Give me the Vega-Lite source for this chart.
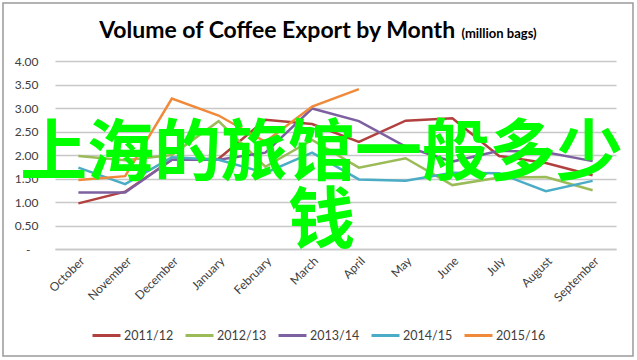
{
  "$schema": "https://vega.github.io/schema/vega-lite/v6.json",
  "width": 561,
  "height": 188,
  "autosize": {"type": "none"},
  "padding": {"left": 55, "top": 61, "right": 21, "bottom": 111},
  "background": "white",
  "config": {
    "view": {"stroke": null},
    "font": "Lato",
    "axisX": {
      "labelAngle": -45,
      "labelFont": "Lato",
      "labelFontSize": 12,
      "labelColor": "#404040",
      "labelPadding": 6,
      "ticks": false,
      "domainColor": "#C8C8C8",
      "domainWidth": 1.5,
      "grid": false
    },
    "axisY": {
      "tickCount": 8,
      "labelExpr": "datum.value == 0 ? '-' : format(datum.value, '.2f')",
      "labelOverlap": false,
      "labelFont": "Lato",
      "labelFontSize": 12,
      "labelColor": "#404040",
      "labelPadding": {"condition": {"test": "datum.value == 0", "value": 25}, "value": 17},
      "ticks": false,
      "domain": false,
      "grid": true,
      "gridColor": "#C8C8C8",
      "gridWidth": 1.5
    }
  },
  "datasets": {
    "exports": [
      {"month": "October", "season": "2011/12", "value": 0.97},
      {"month": "November", "season": "2011/12", "value": 1.22},
      {"month": "December", "season": "2011/12", "value": 1.9},
      {"month": "January", "season": "2011/12", "value": 1.92},
      {"month": "February", "season": "2011/12", "value": 2.75},
      {"month": "March", "season": "2011/12", "value": 2.66},
      {"month": "April", "season": "2011/12", "value": 2.28},
      {"month": "May", "season": "2011/12", "value": 2.73},
      {"month": "June", "season": "2011/12", "value": 2.78},
      {"month": "July", "season": "2011/12", "value": 1.98},
      {"month": "August", "season": "2011/12", "value": 1.83},
      {"month": "September", "season": "2011/12", "value": 1.57},
      {"month": "October", "season": "2012/13", "value": 1.98},
      {"month": "November", "season": "2012/13", "value": 1.89},
      {"month": "December", "season": "2012/13", "value": 2.0},
      {"month": "January", "season": "2012/13", "value": 2.72},
      {"month": "February", "season": "2012/13", "value": 1.75},
      {"month": "March", "season": "2012/13", "value": 2.32},
      {"month": "April", "season": "2012/13", "value": 1.73},
      {"month": "May", "season": "2012/13", "value": 1.93},
      {"month": "June", "season": "2012/13", "value": 1.36},
      {"month": "July", "season": "2012/13", "value": 1.52},
      {"month": "August", "season": "2012/13", "value": 1.53},
      {"month": "September", "season": "2012/13", "value": 1.25},
      {"month": "October", "season": "2013/14", "value": 1.2},
      {"month": "November", "season": "2013/14", "value": 1.2},
      {"month": "December", "season": "2013/14", "value": 1.9},
      {"month": "January", "season": "2013/14", "value": 1.9},
      {"month": "February", "season": "2013/14", "value": 2.05},
      {"month": "March", "season": "2013/14", "value": 2.99},
      {"month": "April", "season": "2013/14", "value": 2.72},
      {"month": "May", "season": "2013/14", "value": 2.18},
      {"month": "June", "season": "2013/14", "value": 1.86},
      {"month": "July", "season": "2013/14", "value": 2.09},
      {"month": "August", "season": "2013/14", "value": 2.06},
      {"month": "September", "season": "2013/14", "value": 1.87},
      {"month": "October", "season": "2014/15", "value": 1.73},
      {"month": "November", "season": "2014/15", "value": 1.38},
      {"month": "December", "season": "2014/15", "value": 1.95},
      {"month": "January", "season": "2014/15", "value": 1.9},
      {"month": "February", "season": "2014/15", "value": 1.62},
      {"month": "March", "season": "2014/15", "value": 2.05},
      {"month": "April", "season": "2014/15", "value": 1.48},
      {"month": "May", "season": "2014/15", "value": 1.45},
      {"month": "June", "season": "2014/15", "value": 1.62},
      {"month": "July", "season": "2014/15", "value": 1.61},
      {"month": "August", "season": "2014/15", "value": 1.23},
      {"month": "September", "season": "2014/15", "value": 1.45},
      {"month": "October", "season": "2015/16", "value": 1.47},
      {"month": "November", "season": "2015/16", "value": 1.55},
      {"month": "December", "season": "2015/16", "value": 3.2},
      {"month": "January", "season": "2015/16", "value": 2.84},
      {"month": "February", "season": "2015/16", "value": 2.28},
      {"month": "March", "season": "2015/16", "value": 3.03},
      {"month": "April", "season": "2015/16", "value": 3.4}
    ]
  },
  "layer": [
    {
      "data": {"values": [{"frame": "border"}]},
      "mark": {"type": "rect", "fill": "transparent", "stroke": "#9A9A9A", "strokeWidth": 1.5},
      "encoding": {
        "x": {"datum": -0.0927, "type": "quantitative", "scale": {"domain": [0, 1], "nice": false, "zero": false}, "axis": null},
        "x2": {"datum": 1.0303},
        "y": {"datum": 5.234, "type": "quantitative", "title": null},
        "y2": {"datum": -2.277}
      }
    },
    {
      "layer": [
        {
          "data": {"name": "exports"},
          "mark": {"type": "line", "strokeWidth": 2.5},
          "encoding": {
            "x": {
              "field": "month",
              "type": "nominal",
              "title": null,
              "sort": ["October", "November", "December", "January", "February", "March", "April", "May", "June", "July", "August", "September"]
            },
            "y": {
              "field": "value",
              "type": "quantitative",
              "title": null,
              "scale": {"domain": [0, 4], "nice": false}
            },
            "color": {
              "field": "season",
              "type": "nominal",
              "scale": {
                "domain": ["2011/12", "2012/13", "2013/14", "2014/15", "2015/16"],
                "range": ["#B0413E", "#9BBB59", "#7D60A0", "#4BACC6", "#F08A3A"]
              },
              "legend": {
                "title": null,
                "orient": "none",
                "direction": "horizontal",
                "legendX": 36,
                "legendY": 259,
                "symbolType": "stroke",
                "symbolSize": 784,
                "symbolStrokeWidth": 3,
                "labelFont": "Lato",
                "labelFontSize": 12.5,
                "labelColor": "#404040",
                "labelOffset": 2,
                "columnPadding": 5
              }
            }
          }
        },
        {
          "data": {"values": [{"label": "Volume of Coffee Export by Month"}]},
          "mark": {"type": "text", "align": "center", "baseline": "alphabetic", "fontSize": 23, "fontWeight": "bold", "font": "Lato", "color": "#000000", "dx": -35},
          "encoding": {
            "x": {"datum": "March", "title": null},
            "y": {"datum": 4.49, "title": null},
            "text": {"field": "label"}
          }
        },
        {
          "data": {"values": [{"label": "(million bags)"}]},
          "mark": {"type": "text", "align": "left", "baseline": "alphabetic", "fontSize": 13, "fontWeight": "bold", "font": "Lato", "color": "#000000", "dx": 9},
          "encoding": {
            "x": {"datum": "June", "title": null},
            "y": {"datum": 4.49, "title": null},
            "text": {"field": "label"}
          }
        },
        {
          "data": {"values": [{"label": ["上海的旅馆一般多少", "钱"]}]},
          "mark": {"type": "text", "align": "center", "baseline": "alphabetic", "fontSize": 67, "fontWeight": "bold", "font": "Noto Sans CJK SC", "color": "#00FF00", "lineHeight": 68, "dx": 9.5},
          "encoding": {
            "x": {"datum": "March", "title": null},
            "y": {"datum": 1.57, "title": null},
            "text": {"field": "label"}
          }
        }
      ]
    }
  ],
  "resolve": {"scale": {"x": "independent"}}
}
